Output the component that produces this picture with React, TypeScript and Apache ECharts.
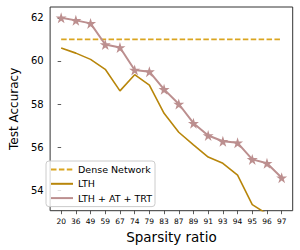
import React, { useEffect, useRef } from "react";
import * as echarts from "echarts";

const categories = ["20", "36", "49", "59", "67", "74", "79", "83", "87", "89", "91", "93", "94", "95", "96", "97"];
const denseNetwork = [61.0, 61.0, 61.0, 61.0, 61.0, 61.0, 61.0, 61.0, 61.0, 61.0, 61.0, 61.0, 61.0, 61.0, 61.0, 61.0];
const lth = [60.6, 60.36, 60.07, 59.61, 58.61, 59.36, 58.88, 57.57, 56.69, 56.1, 55.54, 55.25, 54.7, 53.33, 52.9, 52.4];
const lthAtTrt = [62.0, 61.88, 61.74, 60.76, 60.62, 59.58, 59.5, 58.68, 58.0, 57.11, 56.54, 56.27, 56.2, 55.43, 55.25, 54.58];
const yTicks = [54, 56, 58, 60, 62];

const STAR = "path://M50,0 L61.2,34.5 L97.6,34.5 L68.2,55.9 L79.4,90.5 L50,69.1 L20.6,90.5 L31.8,55.9 L2.4,34.5 L38.8,34.5 Z";
const FONT = "DejaVu Sans";

export default function App() {
  const ref = useRef<HTMLDivElement>(null);
  useEffect(() => {
    if (!ref.current) return;
    const chart = echarts.init(ref.current, null, { renderer: "svg" });
    const idx = categories.map((_, i) => i);
    const toPts = (arr: number[]) => arr.map((v, i) => [i, v]);
    chart.setOption({
      animation: false,
      backgroundColor: "#ffffff",
      grid: {
        left: 41,
        top: 7,
        right: 7.3,
        bottom: 39.3,
        show: true,
        borderColor: "#333333",
        borderWidth: 1,
        backgroundColor: "transparent",
      },
      xAxis: {
        type: "value",
        min: -0.75,
        max: 15.75,
        name: "Sparsity ratio",
        nameLocation: "middle",
        nameGap: 13.8,
        nameTextStyle: { fontFamily: FONT, fontSize: 13.5, color: "#000" },
        axisLine: { show: false },
        splitLine: { show: false },
        axisTick: { show: true, inside: false, length: 3.5, customValues: idx, lineStyle: { color: "#333", width: 0.8 } },
        axisLabel: {
          customValues: idx,
          formatter: (v: number) => categories[Math.round(v)] ?? "",
          fontFamily: FONT,
          fontSize: 7.5,
          color: "#000",
          margin: 6.5,
        },
      },
      yAxis: {
        type: "value",
        min: 53.05,
        max: 62.5,
        name: "Test Accuracy",
        nameLocation: "middle",
        nameGap: 22,
        nameTextStyle: { fontFamily: FONT, fontSize: 12, color: "#000" },
        axisLine: { show: false },
        splitLine: { show: false },
        axisTick: { show: true, inside: false, length: 3.5, customValues: yTicks, lineStyle: { color: "#333", width: 0.8 } },
        axisLabel: {
          customValues: yTicks,
          fontFamily: FONT,
          fontSize: 10,
          color: "#000",
          margin: 6.5,
        },
      },
      legend: {
        data: ["Dense Network", "LTH", "LTH + AT + TRT"],
        orient: "vertical",
        left: 46,
        top: 161,
        itemWidth: 22,
        itemHeight: 10,
        itemGap: 4.3,
        padding: [3.5, 3, 3.5, 4],
        backgroundColor: "rgba(255,255,255,0.8)",
        borderColor: "#cccccc",
        borderWidth: 1,
        borderRadius: 3,
        itemStyle: { color: "transparent", borderColor: "transparent", borderWidth: 0, opacity: 0 },
        textStyle: { fontFamily: FONT, fontSize: 9.5, color: "#000" },
      },
      series: [
        {
          name: "Dense Network",
          type: "line",
          data: toPts(denseNetwork),
          symbol: "none",
          lineStyle: { color: "#DAA520", width: 1.8, type: [5.5, 2.4] },
          itemStyle: { color: "#DAA520" },
          z: 2,
        },
        {
          name: "LTH",
          type: "line",
          data: toPts(lth),
          symbol: "none",
          lineStyle: { color: "#B8860B", width: 1.6 },
          itemStyle: { color: "#B8860B" },
          z: 3,
        },
        {
          name: "LTH + AT + TRT",
          type: "line",
          data: toPts(lthAtTrt),
          symbol: "none",
          lineStyle: { color: "#BC8F8F", width: 2 },
          itemStyle: { color: "#BC8F8F" },
          z: 4,
        },
        {
          name: "stars",
          type: "scatter",
          data: toPts(lthAtTrt),
          symbol: STAR,
          symbolSize: 11,
          itemStyle: { color: "#BC8F8F", opacity: 1 },
          z: 5,
        },
      ],
    });
    return () => chart.dispose();
  }, []);
  return <div ref={ref} style={{ position: "absolute", left: 0, top: 0, width: 300, height: 250 }} />;
}
